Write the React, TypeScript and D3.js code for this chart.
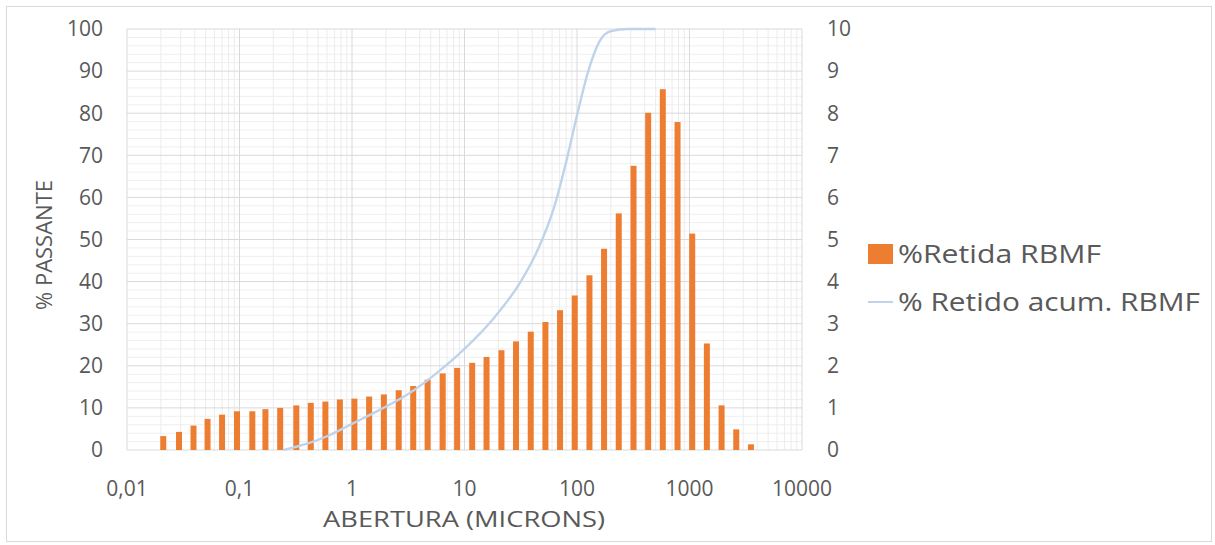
import React from "react";
import * as d3 from "d3";

const barSizes = [0.021, 0.029, 0.039, 0.052, 0.07, 0.095, 0.13, 0.17, 0.23, 0.32, 0.43, 0.58, 0.78, 1.05, 1.42, 1.92, 2.6, 3.5, 4.7, 6.4, 8.6, 11.7, 15.7, 21.3, 28.7, 38.8, 52.4, 70.7, 95.5, 129, 174, 235, 318, 429, 579, 783, 1057, 1427, 1928, 2604, 3516];
const retida = [0.33, 0.43, 0.58, 0.74, 0.84, 0.92, 0.92, 0.97, 1.0, 1.06, 1.12, 1.15, 1.2, 1.22, 1.27, 1.32, 1.42, 1.52, 1.67, 1.82, 1.95, 2.07, 2.21, 2.37, 2.58, 2.81, 3.04, 3.32, 3.67, 4.15, 4.78, 5.62, 6.75, 8.01, 8.57, 7.79, 5.14, 2.53, 1.06, 0.49, 0.135];

const lineSizes = [0.245, 0.4, 0.63, 1.0, 1.78, 3.16, 5.62, 10, 17.8, 31.6, 44.7, 63.1, 79.4, 100, 126, 158, 200, 282, 501];
const acum = [0, 1.5, 3.5, 6.2, 9.6, 13.3, 18.2, 24, 31, 40, 47.5, 58, 68, 79.5, 90, 97, 99.5, 100, 100];

const xTicks = [0.01, 0.1, 1, 10, 100, 1000, 10000];
const xTickLabels = ["0,01", "0,1", "1", "10", "100", "1000", "10000"];
const leftTicks = [0, 10, 20, 30, 40, 50, 60, 70, 80, 90, 100];
const rightTicks = [0, 1, 2, 3, 4, 5, 6, 7, 8, 9, 10];

const W = 1215, H = 545;
const L = 127, R = 802, T = 29, B = 450;
const FONT = "'Open Sans', 'Noto Sans', sans-serif";
const ORANGE = "#ED7D31";
const BLUE = "#BFD4EA";
const TXT = "#595959";

export default function App() {
  const x = d3.scaleLog().domain([0.01, 10000]).range([L, R]);
  const yL = d3.scaleLinear().domain([0, 100]).range([B, T]);
  const yR = d3.scaleLinear().domain([0, 10]).range([B, T]);

  const minorX: number[] = [];
  for (let e = -2; e < 4; e++) for (let m = 2; m <= 9; m++) minorX.push(m * Math.pow(10, e));
  const minorY = d3.range(0, 101, 2).filter((v) => v % 10 !== 0);

  const pts = lineSizes.map((s, i) => [x(s), yL(acum[i])] as [number, number]);
  const linePath = d3.line().curve(d3.curveMonotoneX)(pts) || "";
  const bw = 6;

  return (
    <svg width={W} height={H} style={{ position: "absolute", left: 0, top: 0, background: "#fff" }} fontFamily={FONT}>
      <rect x={6.5} y={6.5} width={W - 10} height={H - 10} fill="#fff" stroke="#d9d9d9" />
      {minorY.map((v) => (
        <line key={"my" + v} x1={L} x2={R} y1={yL(v)} y2={yL(v)} stroke="#efefef" strokeWidth={1} />
      ))}
      {minorX.map((v, i) => (
        <line key={"mx" + i} x1={x(v)} x2={x(v)} y1={T} y2={B} stroke="#ececec" strokeWidth={1} />
      ))}
      {leftTicks.map((v) => (
        <line key={"gy" + v} x1={L} x2={R} y1={yL(v)} y2={yL(v)} stroke="#d9d9d9" strokeWidth={1} />
      ))}
      {xTicks.map((v) => (
        <line key={"gx" + v} x1={x(v)} x2={x(v)} y1={T} y2={B} stroke="#d9d9d9" strokeWidth={1} />
      ))}
      {barSizes.map((s, i) => (
        <rect key={"b" + i} x={x(s) - bw / 2} y={yR(retida[i])} width={bw} height={B - yR(retida[i])} fill={ORANGE} />
      ))}
      <path d={linePath} fill="none" stroke={BLUE} strokeWidth={2.4} />
      {leftTicks.map((v) => (
        <text key={"lt" + v} x={103} y={yL(v)} dy="0.35em" textAnchor="end" fontSize={21} fill={TXT}>{v}</text>
      ))}
      {rightTicks.map((v) => (
        <text key={"rt" + v} x={827} y={yR(v)} dy="0.35em" textAnchor="start" fontSize={21} fill={TXT}>{v}</text>
      ))}
      {xTicks.map((v, i) => (
        <text key={"xt" + v} x={x(v)} y={489} dy="0.35em" textAnchor="middle" fontSize={21} fill={TXT}>{xTickLabels[i]}</text>
      ))}
      <text x={323} y={519} dy="0.35em" textAnchor="start" fontSize={22} textLength={282} lengthAdjust="spacingAndGlyphs" fill={TXT}>ABERTURA (MICRONS)</text>
      <text transform={`translate(44,310) rotate(-90)`} dy="0.35em" textAnchor="start" fontSize={22} textLength={130} lengthAdjust="spacingAndGlyphs" fill={TXT}>% PASSANTE</text>
      <rect x={868} y={244} width={25} height={20} fill={ORANGE} />
      <text x={898} y={254} dy="0.35em" fontSize={25} textLength={203} lengthAdjust="spacingAndGlyphs" fill={TXT}>%Retida RBMF</text>
      <line x1={868} x2={893} y1={302} y2={302} stroke={BLUE} strokeWidth={2} />
      <text x={898} y={302} dy="0.35em" fontSize={25} textLength={302} lengthAdjust="spacingAndGlyphs" fill={TXT}>% Retido acum. RBMF</text>
    </svg>
  );
}
